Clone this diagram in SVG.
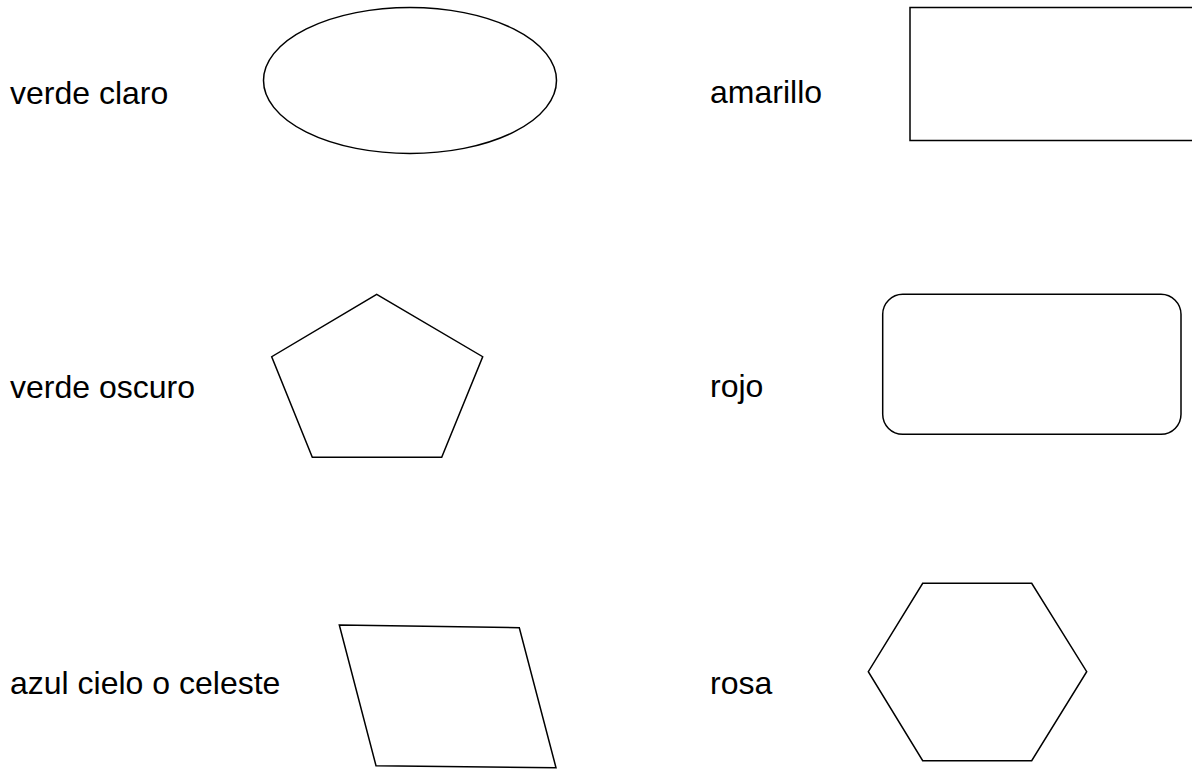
<svg xmlns="http://www.w3.org/2000/svg" width="1192" height="769" viewBox="0 0 1192 769">
<style>
.lbl{font-family:"Liberation Sans",Arial,sans-serif;font-size:32px;fill:#000}
.shp{fill:#fff;stroke:#000;stroke-width:1.5}
</style>
<rect width="1192" height="769" fill="#fff"/>
<g id="verde-claro">
<text class="lbl" x="10" y="104">verde claro</text>
<ellipse class="shp" cx="410" cy="80.5" rx="146.5" ry="73"/>
</g>
<g id="amarillo">
<text class="lbl" x="710" y="103">amarillo</text>
<rect class="shp" x="910" y="7.5" width="300" height="133"/>
</g>
<g id="verde-oscuro">
<text class="lbl" x="10" y="398">verde oscuro</text>
<polygon class="shp" points="376.7,294.3 482.7,356.7 441.7,457.3 312.3,457.3 271.7,356.7"/>
</g>
<g id="rojo">
<text class="lbl" x="710" y="397">rojo</text>
<rect class="shp" x="882.7" y="294.3" width="298.3" height="140" rx="20" ry="20"/>
</g>
<g id="azul">
<text class="lbl" x="10" y="694">azul cielo o celeste</text>
<polygon class="shp" points="339.3,625 519.3,627.7 556,767.7 376,765.7"/>
</g>
<g id="rosa">
<text class="lbl" x="710" y="694">rosa</text>
<polygon class="shp" points="922.7,583.3 1031.7,583.3 1086.7,671.7 1031.7,760.7 922.7,760.7 868.3,671.7"/>
</g>
<g id="connectors"></g>
</svg>
